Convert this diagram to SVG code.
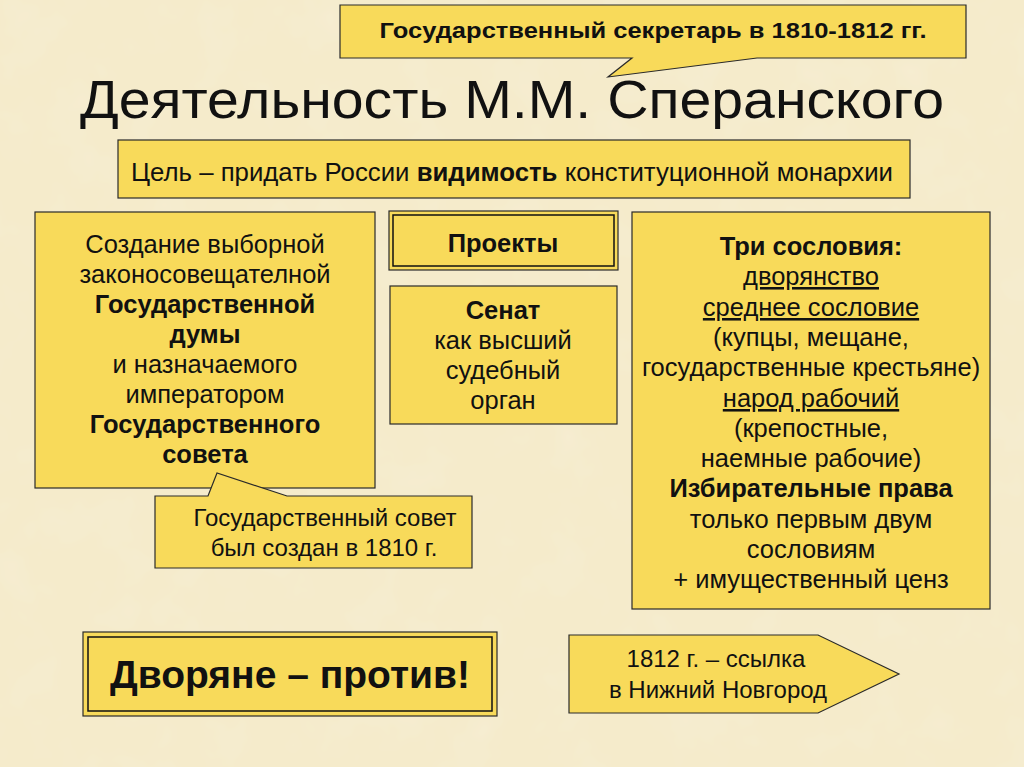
<svg xmlns="http://www.w3.org/2000/svg" width="1024" height="767" viewBox="0 0 1024 767">
<defs>
<style>
.box{fill:#F8DA5A;stroke:#2a2a2a;stroke-width:1.2}
.dbl{fill:none;stroke:#111;stroke-width:1.5}
text{font-family:"Liberation Sans",Arial,sans-serif;fill:#111;text-anchor:middle}
.t{font-size:25.5px}
.s{font-size:24px}
.b{font-weight:bold}
.u{text-decoration:underline}
</style>
<filter id="tex" x="0" y="0" width="100%" height="100%">
<feTurbulence type="fractalNoise" baseFrequency="0.02" numOctaves="3" seed="4" result="n"/>
<feColorMatrix in="n" type="matrix" values="0 0 0 0 0.96  0 0 0 0 0.91  0 0 0 0 0.76  0 0 0 -0.9 0.5" result="c"/>
<feComposite in="c" in2="SourceGraphic" operator="over"/>
</filter>
</defs>
<rect width="1024" height="767" fill="#F5EBCB"/>
<rect width="1024" height="767" fill="#F5EBCB" filter="url(#tex)" opacity="0.6"/>

<g id="secretary">
<path class="box" d="M340,5 H966 V58 H757 L608,77 L632,58 H340 Z"/>
<text x="653" y="38" class="b" font-size="22" textLength="547" lengthAdjust="spacingAndGlyphs">Государственный секретарь в 1810-1812 гг.</text>
</g>

<g id="title">
<text x="512" y="118" font-size="54" textLength="864" lengthAdjust="spacingAndGlyphs">Деятельность М.М. Сперанского</text>
</g>

<g id="goal">
<rect class="box" x="118" y="140" width="792" height="58"/>
<text x="512" y="181" font-size="25" textLength="762" lengthAdjust="spacingAndGlyphs">Цель – придать России <tspan class="b">видимость</tspan> конституционной монархии</text>
</g>

<g id="duma">
<rect class="box" x="35" y="212" width="340" height="276"/>
<text class="t" x="205" y="253">Создание выборной</text>
<text class="t" x="205" y="283">законосовещателной</text>
<text class="t b" x="205" y="313">Государственной</text>
<text class="t b" x="205" y="343">думы</text>
<text class="t" x="205" y="373">и назначаемого</text>
<text class="t" x="205" y="403">императором</text>
<text class="t b" x="205" y="433">Государственного</text>
<text class="t b" x="205" y="463">совета</text>
</g>

<g id="projects">
<rect class="box" x="389" y="211" width="229" height="59" stroke-width="1.5"/>
<rect class="dbl" x="393" y="215" width="221" height="51"/>
<text class="t b" x="503" y="252">Проекты</text>
</g>

<g id="senate">
<rect class="box" x="390" y="286" width="227" height="138"/>
<text class="t b" x="503" y="319">Сенат</text>
<text class="t" x="503" y="349">как высший</text>
<text class="t" x="503" y="379">судебный</text>
<text class="t" x="503" y="409">орган</text>
</g>

<g id="estates">
<rect class="box" x="632" y="212" width="358" height="397"/>
<text class="t b" x="811" y="255">Три сословия:</text>
<text class="t u" x="811" y="285">дворянство</text>
<text class="t u" x="811" y="316">среднее сословие</text>
<text class="t" x="811" y="346">(купцы, мещане,</text>
<text class="t" x="811" y="376">государственные крестьяне)</text>
<text class="t u" x="811" y="407">народ рабочий</text>
<text class="t" x="811" y="437">(крепостные,</text>
<text class="t" x="811" y="467">наемные рабочие)</text>
<text class="t b" x="811" y="497">Избирательные права</text>
<text class="t" x="811" y="528">только первым двум</text>
<text class="t" x="811" y="558">сословиям</text>
<text class="t" x="811" y="588">+ имущественный ценз</text>
</g>

<g id="council">
<path class="box" d="M155,496 H208 L217,473 L287,496 H472 V568 H155 Z"/>
<text class="s" x="325" y="526">Государственный совет</text>
<text class="s" x="324" y="556">был создан в 1810 г.</text>
</g>

<g id="nobles">
<rect class="box" x="83" y="632" width="414" height="84" stroke="#111" stroke-width="2"/>
<rect class="dbl" x="88" y="637" width="404" height="74" stroke-width="2"/>
<text x="290" y="688" font-size="39" class="b">Дворяне – против!</text>
</g>

<g id="exile">
<path class="box" d="M569,635 H818 L899,674 L818,713 H569 Z"/>
<text class="s" x="716" y="667">1812 г. – ссылка</text>
<text class="s" x="718" y="698">в Нижний Новгород</text>
</g>

<g id="connectors"></g>
</svg>
